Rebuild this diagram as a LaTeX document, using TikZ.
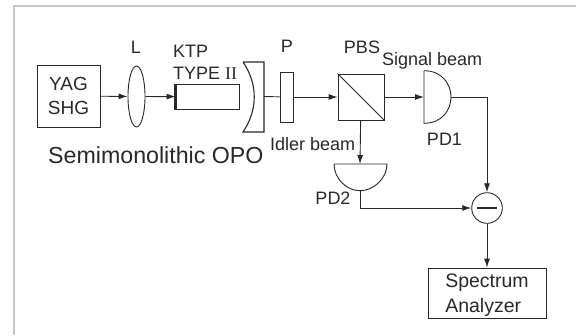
\documentclass[tikz,border=0pt]{standalone}
\usepackage{fontspec}
\setmainfont{Liberation Sans}
\usetikzlibrary{positioning,arrows.meta,shapes.geometric}
\definecolor{framegray}{RGB}{198,198,208}
\definecolor{inkgray}{RGB}{40,40,40}
\tikzset{
    box/.style={draw=inkgray, line width=0.9pt, inner sep=0pt, align=center},
    beam/.style={draw=inkgray, line width=0.9pt, -{Latex[length=9pt,width=6pt]}},
    wire/.style={draw=inkgray, line width=0.9pt},
    lbl/.style={text=inkgray, inner sep=0pt, font=\fontsize{18pt}{24pt}\selectfont},
}
\begin{document}
\begin{tikzpicture}[x=1pt,y=-1pt]
    % Page and frame
    \useasboundingbox (0,0) rectangle (576,335);
    \draw[framegray, line width=2pt] (13.5,335) -- (13.5,6) -- (576,6);
    % Source, lens and crystal
    \node[box, lbl, minimum width=63pt, minimum height=62pt, font=\fontsize{19pt}{23.5pt}\selectfont] (yag) at (68.5,96) {YAG\\SHG};
    \node[box, ellipse, minimum width=17pt, minimum height=61pt] (lens) at (136.5,96.5) {};
    \node[box, minimum width=63pt, minimum height=25pt] (ktp) at (207.5,96.7) {};
    \draw[inkgray, line width=3pt] (ktp.north west) -- (ktp.south west);
    % Mirror
    \coordinate (mirrorR) at (264,96.5);
    \draw[wire, line width=1.1pt] (243,62) -- (264,62) -- (264,132) -- (243,132)
        .. controls (258,110) and (258,84) .. (243,62);
    % Plate
    \node[box, minimum width=13pt, minimum height=50pt] (plate) at (286.5,97) {};
    % Beam splitter
    \node[box, minimum width=46pt, minimum height=46pt] (pbs) at (361,97) {};
    \draw[wire] (pbs.north west) -- (pbs.south east);
    % Detectors
    \draw[wire] (424,70.7) -- (424,123.3)
        .. controls (442,123.3) and (451,110) .. (451,97)
        .. controls (451,84) and (442,70.7) .. (424,70.7);
    \coordinate (pdA) at (424,97);
    \coordinate (pdAout) at (451,97);
    \draw[wire] (334,164) -- (387,164)
        .. controls (387,178) and (374,190.7) .. (360,190.7)
        .. controls (346,190.7) and (334,178) .. (334,164);
    \coordinate (pdB) at (360,164);
    \coordinate (pdBout) at (360,190.7);
    % Subtractor and analyzer
    \node[box, circle, minimum size=30.6pt] (diff) at (487,208) {};
    \draw[inkgray, line width=2pt] ([xshift=-10pt]diff.center) -- ([xshift=10pt]diff.center);
    \node[box, lbl, align=left, text depth=0pt, minimum width=118pt, minimum height=50pt, font=\fontsize{19.5pt}{24.5pt}\selectfont] (sa) at (487,293) {Spectrum\\Analyzer};
    % Beams
    \draw[beam] (yag) -- (lens);
    \draw[beam] (lens) -- (ktp);
    \draw[wire] (mirrorR) -- (plate);
    \draw[beam] (plate) -- (pbs);
    \draw[beam] (pbs) -- (pdA);
    \draw[beam] (pbs) -- (pdB);
    \draw[beam] (pdAout) -| (diff);
    \draw[beam] (pdBout) |- (diff);
    \draw[beam] (diff) -- (sa);
    % Labels
    \node[lbl] (lensL) at (136,47) {L};
    \node[lbl, anchor=west] (ktpL) at (173,51) {KTP};
    \node[lbl, anchor=west] (typeL) at (173,73) {TYPE {\fontspec{Liberation Serif}II}};
    \node[lbl] (plateL) at (287,46) {P};
    \node[lbl] (pbsL) at (362,47) {PBS};
    \node[lbl, anchor=base west] (signalL) at (382,65.5) {Signal beam};
    \node[lbl] (pd1L) at (444.5,139) {PD1};
    \node[lbl, anchor=west] (idlerL) at (270,144) {Idler beam};
    \node[lbl] (pd2L) at (333,198) {PD2};
    \node[lbl, anchor=west, font=\fontsize{23.2pt}{26pt}\selectfont] (opoL) at (48,155) {Semimonolithic OPO};
\end{tikzpicture}
\end{document}
